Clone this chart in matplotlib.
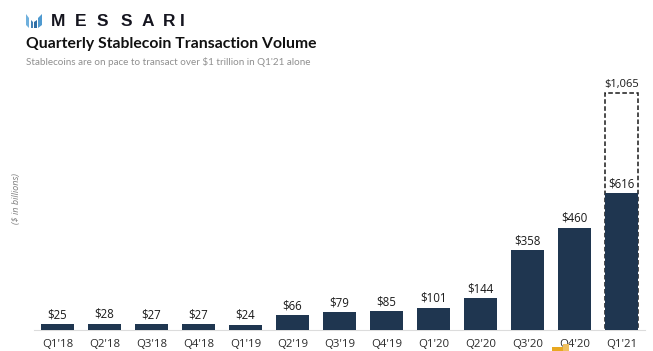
import matplotlib
matplotlib.use("Agg")
import matplotlib.pyplot as plt
from matplotlib.patches import Polygon, Rectangle

W, H = 653, 351
quarters = ["Q1'18", "Q2'18", "Q3'18", "Q4'18", "Q1'19", "Q2'19", "Q3'19", "Q4'19",
            "Q1'20", "Q2'20", "Q3'20", "Q4'20", "Q1'21"]
volumes = [25, 28, 27, 27, 24, 66, 79, 85, 101, 144, 358, 460, 616]
volume_labels = ["$25", "$28", "$27", "$27", "$24", "$66", "$79", "$85", "$101", "$144", "$358", "$460", "$616"]
projected = 1065
projected_label = "$1,065"
title = "Quarterly Stablecoin Transaction Volume"
subtitle = "Stablecoins are on pace to transact over $1 trillion in Q1'21 alone"
y_label = "($ in billions)"

NAVY = "#1f3650"
FONT = ["Open Sans", "DejaVu Sans"]
plt.rcParams["font.family"] = FONT

fig = plt.figure(figsize=(W / 100, H / 100), dpi=100, facecolor="white")

# axes: left 34 px to right 645 px, baseline y = 330 px, top y = 60 px
ax = fig.add_axes([34 / W, (H - 330) / H, (645 - 34) / W, 270 / H])
ax.set_xlim(-0.5, 12.5)
ax.set_ylim(0, 270 / 0.2224)
ax.patch.set_alpha(0)
xs = list(range(len(quarters)))
ax.bar(xs, volumes, width=0.70, color=NAVY, zorder=3)
ax.bar([12], [projected], width=0.70, facecolor="none", edgecolor="#1a1a1a",
       linewidth=1.1, linestyle=(0, (3, 1.6)), zorder=2)

for x, v, s in zip(xs, volumes, volume_labels):
    ax.text(x, v + 13, s, ha="center", va="bottom", fontsize=8.3, color="#1a1a1a", zorder=4)
ax.text(12, projected + 13, projected_label, ha="center", va="bottom", fontsize=8.0, color="#1a1a1a")

for side in ("top", "right", "left"):
    ax.spines[side].set_visible(False)
ax.spines["bottom"].set_color("#dcdcdc")
ax.spines["bottom"].set_linewidth(0.8)
ax.set_yticks([])
ax.set_xticks(xs)
ax.set_xticklabels(quarters, fontsize=8.2, color="#2a2a2a")
ax.tick_params(axis="x", length=0, pad=6.5)


def px(x, y):
    return x / W, 1 - y / H


fig.text(*px(17, 199), y_label, rotation=90, style="italic", fontsize=6.6,
         color="#7f7f7f", ha="center", va="center")
fig.text(*px(26, 44), title, family=["Lato", "DejaVu Sans"], fontsize=11.35, fontweight="bold",
         color="#111111", ha="left", va="center")
fig.text(*px(26, 62), subtitle, family=["Lato", "DejaVu Sans"], fontsize=7.15, color="#8f8f8f",
         ha="left", va="center")

# wordmark, letter-spaced
for x, ch in zip([51, 75, 97, 121, 142, 163, 180], "MESSARI"):
    fig.text(*px(x, 21.5), ch, family=["Liberation Sans", "DejaVu Sans"], fontsize=12.5,
             fontweight="bold", color="#15151f", ha="left", va="center")

# logo glyph
logo = [
    ([26, 29, 29, 26], [14, 18, 28, 25], "#6fb0dd"),
    ([31, 33, 33, 31], [20, 22, 28, 28], "#3f7fb5"),
    ([34, 37, 37, 34], [22, 20, 28, 28], "#2f6ea5"),
    ([38, 42, 42, 38], [18, 14, 25, 28], "#4f9ad0"),
]
for xv, yv, c in logo:
    pts = [px(a, b) for a, b in zip(xv, yv)]
    fig.add_artist(Polygon(pts, closed=True, transform=fig.transFigure, facecolor=c, edgecolor="none"))

# small orange watermark fragment at the bottom edge
fig.add_artist(Rectangle(px(552, 351), 11 / W, 4 / H, transform=fig.transFigure, facecolor="#e8a820", edgecolor="none"))
fig.add_artist(Rectangle(px(563, 351), 6 / W, 7 / H, transform=fig.transFigure, facecolor="#efc060", edgecolor="none"))

fig.savefig("out.png", dpi=100, facecolor="white")
